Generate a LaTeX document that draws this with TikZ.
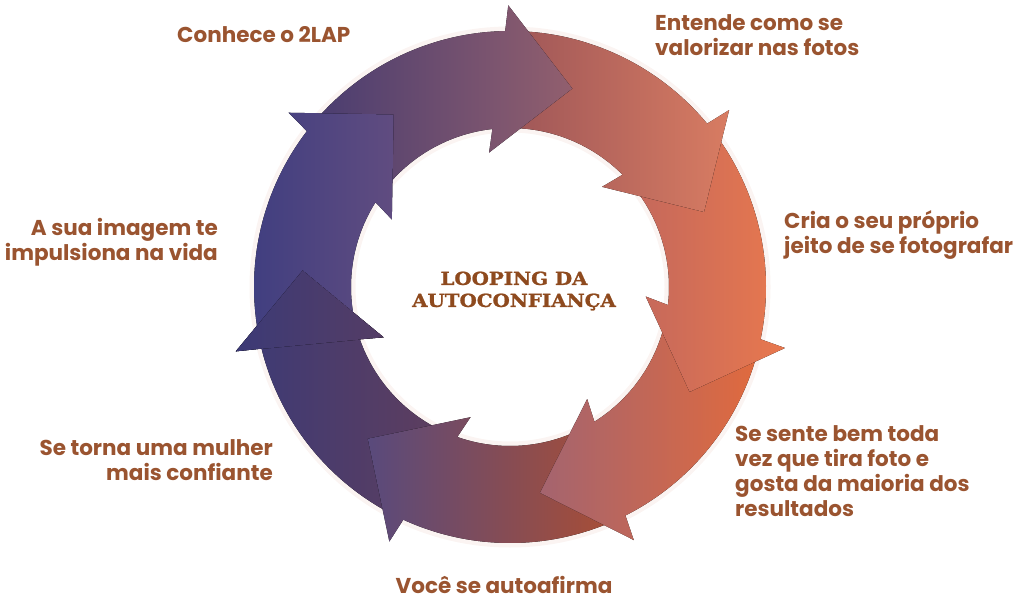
\documentclass[tikz,border=0pt]{standalone}
\usepackage{fontspec}
\setmainfont{Poppins}
\newfontfamily\slabfont{DejaVu Serif Bold}[FakeStretch=1.1, FakeBold=1.2]
\usetikzlibrary{calc}
\definecolor{txt}{HTML}{9A5430}
\definecolor{ctr}{HTML}{8E4A1E}
\definecolor{a0l}{HTML}{3F3E80}\definecolor{a0r}{HTML}{604C80}
\definecolor{a1l}{HTML}{4A3D70}\definecolor{a1r}{HTML}{925F6E}
\definecolor{a2l}{HTML}{9E5658}\definecolor{a2r}{HTML}{D87C62}
\definecolor{a3l}{HTML}{C4685C}\definecolor{a3r}{HTML}{E8784E}
\definecolor{a4l}{HTML}{A4646F}\definecolor{a4r}{HTML}{E06A3E}
\definecolor{a5l}{HTML}{594A7C}\definecolor{a5r}{HTML}{A84E36}
\definecolor{a6l}{HTML}{3C3A76}\definecolor{a6r}{HTML}{5E3E5E}
\definecolor{glow}{HTML}{E9C9BE}
% angle (deg) where the line across the arrow, #2 px behind tip #1, meets circle of radius #3 px
\newcommand\edgeangle[5]{%
  \pgfmathsetmacro\tmpal{#1-80}%
  \pgfmathsetmacro\tmpMx{2.08*cos(#1)-#2/100*cos(\tmpal)}%
  \pgfmathsetmacro\tmpMy{2.08*sin(#1)-#2/100*sin(\tmpal)}%
  \pgfmathsetmacro\tmpux{-sin(\tmpal)}%
  \pgfmathsetmacro\tmpuy{cos(\tmpal)}%
  \pgfmathsetmacro\tmpb{\tmpMx*\tmpux+\tmpMy*\tmpuy}%
  \pgfmathsetmacro\tmpc{\tmpMx*\tmpMx+\tmpMy*\tmpMy-(#3/100)*(#3/100)}%
  \pgfmathsetmacro\tmps{-\tmpb+sqrt(\tmpb*\tmpb-\tmpc)}%
  \pgfmathsetmacro\tmpPx{\tmpMx+\tmps*\tmpux}%
  \pgfmathsetmacro\tmpPy{\tmpMy+\tmps*\tmpuy}%
  \pgfmathsetmacro\tmpang{atan2(\tmpPy,\tmpPx)}%
  \pgfmathsetmacro#4{\tmpang-360*round((\tmpang-(#5))/360)}%
}
\newcommand\arrowgeom[1]{%
  \pgfmathsetmacro\thp{#1+51.4286}%
  \edgeangle{#1}{74}{256}{\aho}{#1+20}%
  \edgeangle{#1}{74}{159}{\ahi}{#1+20}%
  \edgeangle{\thp}{58}{256}{\ato}{#1+68}%
  \edgeangle{\thp}{58}{159}{\ati}{#1+68}%
  \pgfmathsetmacro\abo{#1-80+135}%
  \pgfmathsetmacro\abi{#1-80+225}%
}
\newcommand\arrowfill[3]{%
  \arrowgeom{#1}%
  \fill[left color=#2, right color=#3]
    ($(C)+(\ato:256pt)$) arc[start angle=\ato, end angle=\aho, radius=256pt]
    -- ($(C)+(#1:208pt)+(\abo:105pt)$) -- ($(C)+(#1:208pt)$)
    -- ($(C)+(#1:208pt)+(\abi:105pt)$)
    -- ($(C)+(\ahi:159pt)$) arc[start angle=\ahi, end angle=\ati, radius=159pt]
    -- cycle;
}
\newcommand\arrowheadonly[3]{%
  \arrowgeom{#1}%
  \begin{scope}
    \clip ($(C)+(#1:208pt)+(\abo:105pt)$) -- ($(C)+(#1:208pt)$)
      -- ($(C)+(#1:208pt)+(\abi:105pt)$) -- cycle;
    \fill[left color=#2, right color=#3]
      ($(C)+(\ato:256pt)$) arc[start angle=\ato, end angle=\aho, radius=256pt]
      -- ($(C)+(#1:208pt)+(\abo:105pt)$) -- ($(C)+(#1:208pt)$)
      -- ($(C)+(#1:208pt)+(\abi:105pt)$)
      -- ($(C)+(\ahi:159pt)$) arc[start angle=\ahi, end angle=\ati, radius=159pt]
      -- cycle;
  \end{scope}
}
\begin{document}
\begin{tikzpicture}[x=1pt,y=1pt,
  lbl/.style={font=\bfseries\fontsize{21.5}{25}\selectfont, text=txt, inner sep=0pt}]
\useasboundingbox (0,0) rectangle (1024,600);
\coordinate (C) at (510,313);
% soft halo round the ring
\draw[glow, line width=5pt, opacity=0.2] (C) circle[radius=258pt];
\draw[glow, line width=5pt, opacity=0.2] (C) circle[radius=157pt];
\arrowfill{-184.5714}{a6l}{a6r}
\arrowfill{-133.1429}{a5l}{a5r}
\arrowfill{-81.7143}{a4l}{a4r}
\arrowfill{-30.2857}{a3l}{a3r}
\arrowfill{21.1429}{a2l}{a2r}
\arrowfill{72.5714}{a1l}{a1r}
\arrowfill{124}{a0l}{a0r}
\arrowheadonly{-184.5714}{a6l}{a6r}

\node[font=\slabfont\fontsize{18}{22}\selectfont, text=ctr, align=center] (title) at (514,309) {LOOPING DA\\AUTOCONFIANÇA};

\node[lbl, anchor=base west] (l1) at (177,557) {Conhece o 2LAP};
\node[lbl, align=left, anchor=base west] (l2) at (655,544) {Entende como se\\valorizar nas fotos};
\node[lbl, align=left, anchor=base west] (l3) at (784,346) {Cria o seu próprio\\jeito de se fotografar};
\node[lbl, align=left, anchor=base west] (l4) at (735,84) {Se sente bem toda\\vez que tira foto e\\gosta da maioria dos\\resultados};
\node[lbl, anchor=base] (l5) at (504,7) {Você se autoafirma};
\node[lbl, align=right, anchor=base east] (l6) at (273,120) {Se torna uma mulher\\mais confiante};
\node[lbl, align=right, anchor=base east] (l7) at (218,339) {A sua imagem te\\impulsiona na vida};
\end{tikzpicture}
\end{document}
